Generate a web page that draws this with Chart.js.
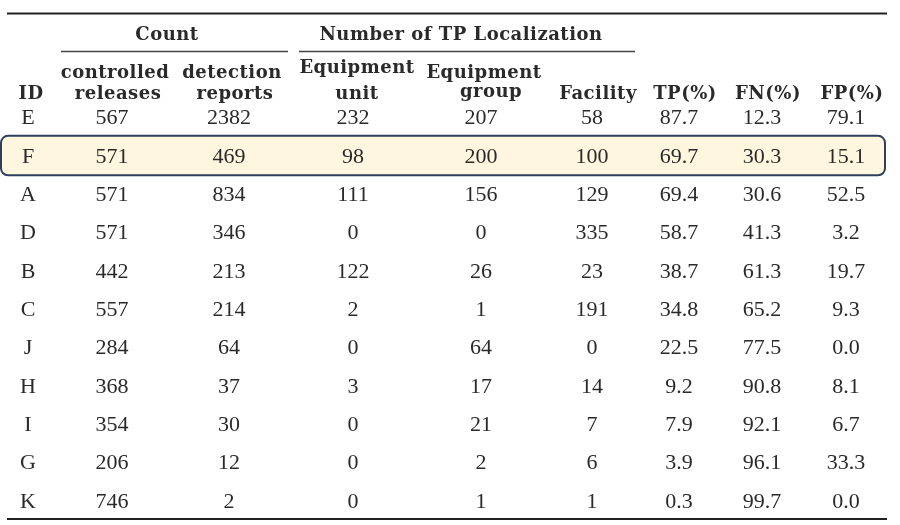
<!DOCTYPE html>
<html>
<head>
<meta charset="utf-8">
<script src="https://cdn.jsdelivr.net/npm/chart.js@4"></script>
<style>
  body { margin: 0; background: #fff; }
  #wrap { width: 900px; height: 525px; }
</style>
</head>
<body>
<div id="wrap"><canvas id="table1" width="900" height="525"></canvas></div>
<script>
// Table data

var ids = ['E', 'F', 'A', 'D', 'B', 'C', 'J', 'H', 'I', 'G', 'K'];
var controlledReleases = [567, 571, 571, 571, 442, 557, 284, 368, 354, 206, 746];
var detectionReports = [2382, 469, 834, 346, 213, 214, 64, 37, 30, 12, 2];
var equipmentUnit = [232, 98, 111, 0, 122, 2, 0, 3, 0, 0, 0];
var equipmentGroup = [207, 200, 156, 0, 26, 1, 64, 17, 21, 2, 1];
var facility = [58, 100, 129, 335, 23, 191, 0, 14, 7, 6, 1];
var tpPct = ['87.7', '69.7', '69.4', '58.7', '38.7', '34.8', '22.5', '9.2', '7.9', '3.9', '0.3'];
var fnPct = ['12.3', '30.3', '30.6', '41.3', '61.3', '65.2', '77.5', '90.8', '92.1', '96.1', '99.7'];
var fpPct = ['79.1', '15.1', '52.5', '3.2', '19.7', '9.3', '0.0', '8.1', '6.7', '33.3', '0.0'];
var highlightId = 'F';

// Column headers (two lines each)
var headers = [
  ['', 'ID'],
  ['controlled', 'releases'],
  ['detection', 'reports'],
  ['Equipment', 'unit'],
  ['Equipment', 'group'],
  ['', 'Facility'],
  ['', 'TP(%)'],
  ['', 'FN(%)'],
  ['', 'FP(%)']
];

// Layout: column centres in x-scale units
var colCenters = [21, 105, 222, 346, 474, 585, 672, 755, 839];

var columns = [ids, controlledReleases, detectionReports, equipmentUnit, equipmentGroup, facility, tpPct, fnPct, fpPct];

var cells = [];
columns.forEach(function (col, c) {
  col.forEach(function (v, r) {
    cells.push({ x: colCenters[c], y: ids[r], text: String(v) });
  });
});

var serif = '"Liberation Serif", serif';
var headSerif = '"DejaVu Serif", serif';

var tablePlugin = {
  id: 'tablePlugin',
  beforeDatasetsDraw: function (chart) {
    var ctx = chart.ctx;
    var ys = chart.scales.y;
    var area = chart.chartArea;
    var band = ys.getPixelForValue(1) - ys.getPixelForValue(0);

    // highlighted row
    var hy = ys.getPixelForValue(ids.indexOf(highlightId));
    ctx.save();
    ctx.beginPath();
    ctx.roundRect(area.left - 6, hy - band / 2 + 0.5, area.right - area.left + 4, band + 1, 7);
    ctx.fillStyle = '#fef6df';
    ctx.fill();
    ctx.lineWidth = 2;
    ctx.strokeStyle = '#2e3f5f';
    ctx.stroke();
    ctx.restore();
  },
  afterDatasetsDraw: function (chart) {
    var ctx = chart.ctx;
    var xs = chart.scales.x;
    var area = chart.chartArea;
    var meta = chart.getDatasetMeta(0);
    ctx.save();
    ctx.fillStyle = '#2a2a2a';
    ctx.textAlign = 'center';
    ctx.textBaseline = 'alphabetic';

    // cells
    ctx.font = '22px ' + serif;
    meta.data.forEach(function (pt, i) {
      ctx.fillText(cells[i].text, pt.x, pt.y + 8);
    });

    // rules
    ctx.strokeStyle = '#222';
    ctx.lineWidth = 2;
    ctx.beginPath();
    ctx.moveTo(area.left, 13.5);
    ctx.lineTo(area.right, 13.5);
    ctx.moveTo(area.left, area.bottom);
    ctx.lineTo(area.right, area.bottom);
    ctx.stroke();
    ctx.lineWidth = 1.5;
    ctx.strokeStyle = '#444';
    ctx.beginPath();
    ctx.moveTo(xs.getPixelForValue(54), 51.5);
    ctx.lineTo(xs.getPixelForValue(281), 51.5);
    ctx.moveTo(xs.getPixelForValue(292), 51.5);
    ctx.lineTo(xs.getPixelForValue(628), 51.5);
    ctx.stroke();

    // group headers
    ctx.font = 'bold 18px ' + headSerif;
    ctx.letterSpacing = '0.5px';
    ctx.fillText('Count', xs.getPixelForValue(160), 40);
    ctx.fillText('Number of TP Localization', xs.getPixelForValue(454), 40);

    // column headers
    headers.forEach(function (h, c) {
      var x = xs.getPixelForValue(colCenters[c]);
      if (c === 3) {
        x = xs.getPixelForValue(350);
        ctx.fillText(h[0], x, 73);
        ctx.fillText(h[1], x, 99);
      } else if (c === 4) {
        x = xs.getPixelForValue(477);
        ctx.fillText(h[0], x, 78);
        ctx.fillText(h[1], x + 7, 97);
      } else {
        if (h[0]) ctx.fillText(h[0], x + 3, 78);
        ctx.fillText(h[1], x + (c === 0 ? 3 : 6), 99);
      }
    });
    ctx.restore();
  }
};

var ctx = document.getElementById('table1').getContext('2d');
var chart = new Chart(ctx, {
  type: 'scatter',
  data: {
    datasets: [{
      data: cells,
      pointRadius: 0,
      pointHoverRadius: 0
    }]
  },
  options: {
    responsive: false,
    animation: false,
    layout: { padding: { top: 97, bottom: 6, left: 7, right: 13 } },
    plugins: { legend: { display: false }, tooltip: { enabled: false } },
    scales: {
      x: { type: 'linear', min: 0, max: 880, display: false },
      y: { type: 'category', labels: ids, offset: true, display: false }
    }
  },
  plugins: [tablePlugin]
});
</script>
</body>
</html>
